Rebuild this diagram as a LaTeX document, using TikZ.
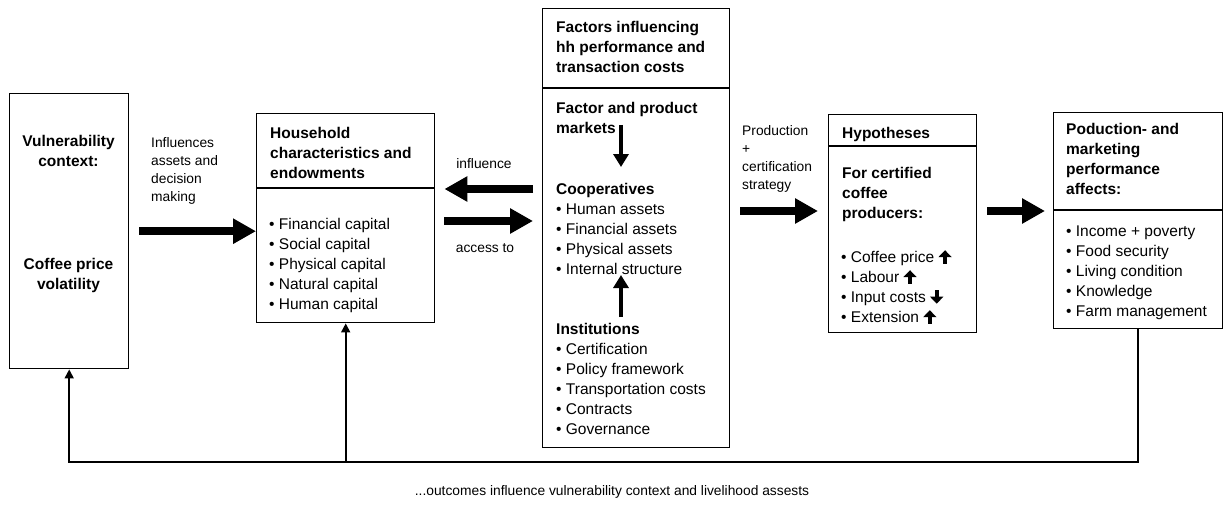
\documentclass[tikz,border=0pt]{standalone}
\usepackage{fontspec}
\setmainfont{Liberation Sans}
\usetikzlibrary{arrows.meta, calc}

\newcommand{\arrup}{\tikz[baseline=0pt]\draw[line width=4pt,-{Triangle[length=7pt,width=13pt]}] (0pt,-1.5pt)--(0pt,12pt);}
\newcommand{\arrdn}{\tikz[baseline=0pt]\draw[line width=4pt,-{Triangle[length=7pt,width=13pt]}] (0pt,12pt)--(0pt,-1.5pt);}

\begin{document}
\begin{tikzpicture}[x=1pt, y=-1pt,
  box/.style={draw, line width=1.4pt, inner sep=0pt, anchor=north west},
  txt/.style={inner sep=0pt, anchor=north west, align=left, font=\fontsize{15.5}{20}\selectfont},
  head/.style={txt, font=\fontsize{15.5}{20}\selectfont\bfseries},
  lbl/.style={inner sep=0pt, align=left, font=\fontsize{13.8}{18}\selectfont},
  bigarrow/.style={line width=8pt, -{Triangle[length=23pt, width=24pt]}},
  midarrow/.style={line width=4pt, -{Triangle[length=13pt, width=15pt]}},
  fb/.style={line width=1.7pt, -{Triangle[length=9pt, width=9pt]}}]
\useasboundingbox (0,0) rectangle (1225,508);

% boxes
\node[box, minimum width=119pt, minimum height=275pt] (vuln) at (9,93) {};
\node[box, minimum width=178pt, minimum height=209pt] (hh) at (256,113) {};
\node[box, minimum width=187pt, minimum height=439pt] (factors) at (542,8) {};
\node[box, minimum width=148pt, minimum height=218pt] (hyp) at (828,114) {};
\node[box, minimum width=169pt, minimum height=216pt] (prod) at (1053,112) {};
\draw[line width=1.4pt] (hh.west |- 0,188) -- (hh.east |- 0,188);
\draw[line width=1.4pt] (factors.west |- 0,88) -- (factors.east |- 0,88);
\draw[line width=1.4pt] (hyp.west |- 0,146) -- (hyp.east |- 0,146);
\draw[line width=1.4pt] (prod.west |- 0,210) -- (prod.east |- 0,210);

% vulnerability context
\node[head, anchor=north, align=center] (vtitle) at (68.5,135) {Vulnerability\\context:};
\node[head, anchor=north, align=center] (vprice) at (68.5,258) {Coffee price\\volatility};

% household
\node[head] (hhhead) at (270,127) {Household\\characteristics and\\endowments};
\node[txt] (hhlist) at (269,218) {• Financial capital\\• Social capital\\• Physical capital\\• Natural capital\\• Human capital};

% factors
\node[head] (fachead) at (556,21) {Factors influencing\\hh performance and\\transaction costs};
\node[head] (markets) at (556,102) {Factor and product\\markets};
\node[txt] (coop) at (556,183) {{\bfseries Cooperatives}\\• Human assets\\• Financial assets\\• Physical assets\\• Internal structure};
\node[txt] (inst) at (556,323) {{\bfseries Institutions}\\• Certification\\• Policy framework\\• Transportation costs\\• Contracts\\• Governance};
\draw[midarrow] ([shift={(65,23)}]markets.north west) -- ([shift={(65,-16)}]coop.north west);
\draw[midarrow] ([shift={(65,-6)}]inst.north west) -- ([shift={(65,-48)}]inst.north west);

% hypotheses
\node[head] (hyphead) at (842,127) {Hypotheses};
\node[head] (hypfor) at (842,167) {For certified\\coffee\\producers:};
\node[txt] (hyplist) at (841,248) {• Coffee price \arrup\\• Labour \arrup\\• Input costs \arrdn\\• Extension \arrup};

% outcomes
\node[head] (prodhead) at (1066,123) {Poduction- and\\marketing\\performance\\affects:};
\node[txt] (prodlist) at (1066,226) {• Income + poverty\\• Food security\\• Living condition\\• Knowledge\\• Farm management};

% labels
\node[lbl, anchor=north west] (lblvuln) at (151,137) {Influences\\assets and\\decision\\making};
\node[lbl] (lblinf) at (484,164) {influence};
\node[lbl] (lblacc) at (485,248) {access to};
\node[lbl, anchor=north west] (lblprod) at (742,125) {Production\\+\\certification\\strategy};
\node[lbl] (caption) at (612,492) {...outcomes influence vulnerability context and livelihood assests};

% flows
\draw[bigarrow] ($(vuln.east)+(10,0)$) -- (vuln.east -| hh.west);
\draw[bigarrow] ($(factors.west |- 0,189)+(-9,0)$) -- ($(hh.east |- 0,189)+(9,0)$);
\draw[bigarrow] ($(hh.east |- 0,221)+(9,0)$) -- ($(factors.west |- 0,221)+(-9,0)$);
\draw[bigarrow] ($(factors.east |- 0,211)+(10,0)$) -- ($(hyp.west |- 0,211)+(-10,0)$);
\draw[bigarrow] ($(hyp.east |- 0,211)+(10,0)$) -- ($(prod.west |- 0,211)+(-8,0)$);

% feedback
\coordinate (fbline) at (0,462);
\draw[fb] (prod.south) -- (prod.south |- fbline) -| (vuln.south);
\draw[fb] (hh.south |- fbline) -- (hh.south);
\end{tikzpicture}
\end{document}
